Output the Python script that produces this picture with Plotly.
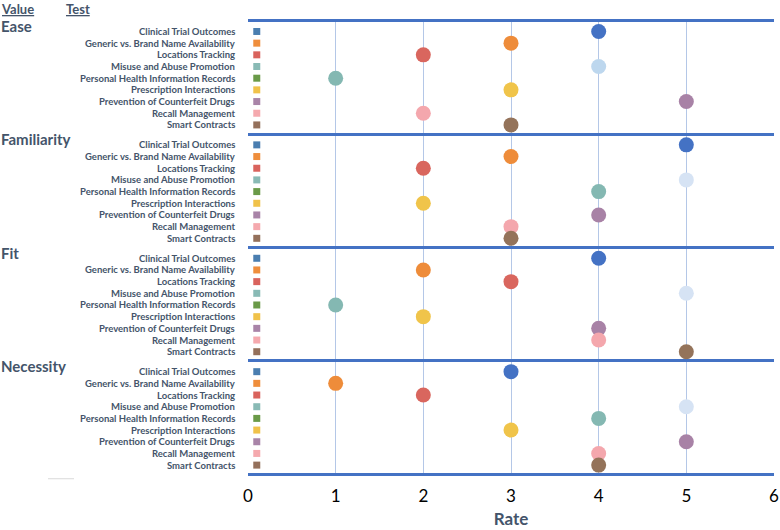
import plotly.graph_objects as go

# ---- data ----
panels = ["Ease", "Familiarity", "Fit", "Necessity"]
tests = [
    "Clinical Trial Outcomes",
    "Generic vs. Brand Name Availability",
    "Locations Tracking",
    "Misuse and Abuse Promotion",
    "Personal Health Information Records",
    "Prescription Interactions",
    "Prevention of Counterfeit Drugs",
    "Recall Management",
    "Smart Contracts",
]
ease = [4, 3, 2, 4, 1, 3, 5, 2, 3]
familiarity = [5, 3, 2, 5, 4, 2, 4, 3, 3]
fit = [4, 2, 3, 5, 1, 2, 4, 4, 5]
necessity = [3, 1, 2, 5, 4, 3, 5, 4, 4]
x_ticks = [0, 1, 2, 3, 4, 5, 6]

# ---- styling ----
marker_colors = ["#4472c4", "#ee8c3a", "#d9665e", "#d6e3f4", "#84b8b2",
                 "#f0c44a", "#a882a6", "#f4a7ad", "#94735a"]
misuse_ease_color = "#bdd7ee"
legend_colors = ["#4a7eb0", "#ef8e3c", "#d9635d", "#89bab5", "#6a9a48",
                 "#f0c24a", "#a984a8", "#f5a9ae", "#94705b"]
TXT = "#44546a"
FONT = "Lato"

panel_values = [ease, familiarity, fit, necessity]
PANEL_H = 10
n_rows = len(tests)


def row_y(p, k):
    return p * PANEL_H + 0.95 + k * 1.03


fig = go.Figure()

# legend-like colour squares at left of each panel
sq_x, sq_y, sq_c = [], [], []
for p in range(len(panels)):
    for k in range(n_rows):
        sq_x.append(0.1)
        sq_y.append(row_y(p, k))
        sq_c.append(legend_colors[k])
fig.add_trace(go.Scatter(x=sq_x, y=sq_y, mode="markers",
                         marker=dict(symbol="square", size=7, color=sq_c),
                         hoverinfo="skip", showlegend=False))

# data markers, one trace per test
for k, t in enumerate(tests):
    xs = [panel_values[p][k] for p in range(len(panels))]
    ys = [row_y(p, k) for p in range(len(panels))]
    cols = [marker_colors[k]] * len(panels)
    if k == 3:
        cols[0] = misuse_ease_color
    fig.add_trace(go.Scatter(x=xs, y=ys, mode="markers", name=t,
                             marker=dict(size=15, color=cols, line=dict(width=0)),
                             showlegend=False))

annotations = []
# row labels
for p in range(len(panels)):
    for k, t in enumerate(tests):
        annotations.append(dict(text="<b>" + t + "</b>", xref="paper", yref="y",
                                x=0, y=row_y(p, k), xanchor="right", yanchor="middle",
                                xshift=-11, showarrow=False,
                                font=dict(family=FONT, size=9.5, color=TXT)))
    annotations.append(dict(text="<b>" + panels[p] + "</b>", xref="paper", yref="y",
                            x=-0.474, y=p * PANEL_H + 0.45, xanchor="left",
                            yanchor="middle", showarrow=False,
                            font=dict(family=FONT, size=15, color=TXT)))

# headers
for txt, xp in [("Value", -0.474), ("Test", -0.350)]:
    annotations.append(dict(text="<b><span style='text-decoration:underline'>" + txt + "</span></b>",
                            xref="paper", yref="paper", x=xp, y=1, yshift=10,
                            xanchor="left", yanchor="middle", showarrow=False,
                            font=dict(family=FONT, size=13, color=TXT)))

fig.update_layout(
    width=780, height=530,
    margin=dict(l=248, r=6, t=19, b=54),
    paper_bgcolor="white", plot_bgcolor="white",
    annotations=annotations,
    shapes=[dict(type="line", xref="paper", yref="paper",
                 x0=(48 - 248) / 526, x1=(74 - 248) / 526, y0=-0.006, y1=-0.006,
                 line=dict(color="#d9d9d9", width=1))],
    xaxis=dict(range=[0, 6], tickvals=x_ticks, showgrid=True, automargin=False,
               gridcolor="#b4c7e7", gridwidth=1, zeroline=False, showline=False,
               ticks="", ticklabelstandoff=8,
               tickfont=dict(family=FONT, size=17, color="black"),
               title=dict(text="<b>Rate</b>", font=dict(family=FONT, size=17, color=TXT),
                          standoff=8)),
    yaxis=dict(range=[len(panels) * PANEL_H + 0.15, -0.15], automargin=False,
               tickvals=[p * PANEL_H for p in range(len(panels) + 1)],
               showticklabels=False, showgrid=True, gridcolor="#4472c4",
               gridwidth=2.5, zeroline=False, ticks=""),
)

fig.write_html("out.html", config={"displayModeBar": False},
               post_script="document.body.style.margin='0';")
